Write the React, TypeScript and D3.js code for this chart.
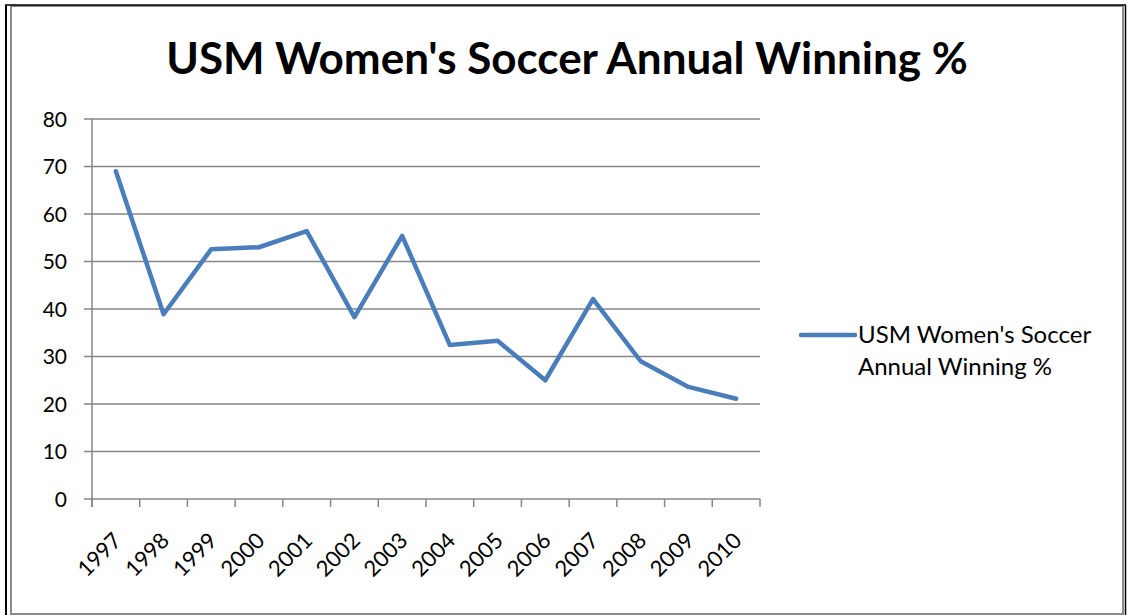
import React from "react";
import * as d3 from "d3";

const years = ["1997","1998","1999","2000","2001","2002","2003","2004","2005","2006","2007","2008","2009","2010"];
const winPct = [69.0, 38.9, 52.6, 53.0, 56.4, 38.3, 55.4, 32.4, 33.3, 25.0, 42.1, 29.0, 23.6, 21.1];
const yTicks = [0, 10, 20, 30, 40, 50, 60, 70, 80];
const title = "USM Women's Soccer Annual Winning %";
const legendLines = ["USM Women's Soccer", "Annual Winning %"];

const W = 1128, H = 616;
const left = 92, right = 760, top = 119, bottom = 499;
const FONT = "Lato, 'Open Sans', sans-serif";
const LINE = "#4a7ebb";
const GRID = "#868686";

export default function App() {
  const x = d3.scaleBand<string>().domain(years).range([left, right]);
  const y = d3.scaleLinear().domain([0, 80]).range([bottom, top]);
  const line = d3.line<number>()
    .x((_, i) => (x(years[i]) as number) + x.bandwidth() / 2)
    .y((d) => y(d));
  const boundaries = years.map((yr) => x(yr) as number).concat([right]);

  return (
    <svg width={W} height={H} style={{ position: "absolute", left: 0, top: 0, background: "#fff" }}>
      <rect x={0} y={0} width={W} height={H} fill="#fff" />
      <rect x={11} y={6} width={1112} height={608} fill="none" stroke="#8c8c8c" strokeWidth={2} />
      <line x1={6} y1={5} x2={6} y2={615} stroke="#000" strokeWidth={2} />
      <line x1={5} y1={5} x2={1126} y2={5} stroke="#000" strokeWidth={1.5} />
      <line x1={1125.5} y1={5} x2={1125.5} y2={615} stroke="#000" strokeWidth={1.5} />

      <text x={567} y={74} textAnchor="middle" fontFamily={FONT} fontWeight="bold" fontSize={44} fill="#000">
        {title}
      </text>

      {yTicks.map((t) => (
        <g key={t}>
          <line x1={84} x2={right} y1={y(t)} y2={y(t)} stroke={GRID} strokeWidth={1.5} />
          <text x={67} y={y(t)} dy="0.36em" textAnchor="end" fontFamily={FONT} fontSize={21} fill="#000">
            {t}
          </text>
        </g>
      ))}
      <line x1={left} x2={left} y1={top} y2={bottom + 8} stroke={GRID} strokeWidth={1.5} />
      {boundaries.map((b, i) => (
        <line key={i} x1={b} x2={b} y1={bottom} y2={bottom + 8} stroke={GRID} strokeWidth={1.5} />
      ))}
      {years.map((yr) => {
        const cx = (x(yr) as number) + x.bandwidth() / 2;
        const tx = cx + 7;
        const ty = 542;
        return (
          <text key={yr} x={tx} y={ty} textAnchor="end" fontFamily={FONT} fontSize={22} fill="#000"
            transform={`rotate(-45, ${tx}, ${ty})`}>
            {yr}
          </text>
        );
      })}

      <path d={line(winPct) as string} fill="none" stroke={LINE} strokeWidth={4.5} strokeLinejoin="round" strokeLinecap="round" />

      <line x1={801} x2={855} y1={335} y2={335} stroke={LINE} strokeWidth={4.5} strokeLinecap="round" />
      {legendLines.map((l, i) => (
        <text key={i} x={858} y={343 + i * 32} fontFamily={FONT} fontSize={24} fill="#000">{l}</text>
      ))}
    </svg>
  );
}
